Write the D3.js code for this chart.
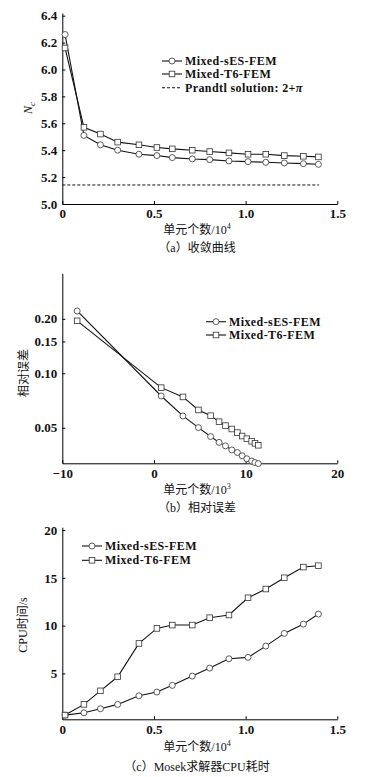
<!DOCTYPE html>
<html>
<head>
<meta charset="utf-8">
<script src="https://cdn.jsdelivr.net/npm/d3@7"></script>
<style>
body { margin: 0; background: #fff; }
svg text { font-family: "Liberation Serif", "Noto Sans CJK SC", serif; fill: #111; }
.tick text { font-size: 13px; font-weight: bold; }
.legend text { font-size: 12px; font-weight: bold; letter-spacing: 0.4px; }
.cn { font-size: 12px; }
</style>
</head>
<body>
<svg width="377" height="777"></svg>
<script>
// element count (x10^4), shared by panel a and c
var elemCount = [0.015, 0.118, 0.208, 0.302, 0.418, 0.516, 0.600, 0.709, 0.804, 0.909, 1.013, 1.110, 1.211, 1.315, 1.397];

// (a) Nc convergence
var ncSES = [6.26, 5.51, 5.44, 5.40, 5.37, 5.36, 5.345, 5.335, 5.33, 5.32, 5.315, 5.31, 5.305, 5.30, 5.295];
var ncT6 = [6.16, 5.57, 5.52, 5.46, 5.44, 5.42, 5.41, 5.40, 5.39, 5.38, 5.37, 5.37, 5.36, 5.355, 5.35];
var prandtl = 2 + Math.PI;

// (b) relative error, x in 10^3
var errX = [-8.38, 0.79, 3.16, 4.85, 6.18, 7.1, 7.8, 8.49, 9.1, 9.62, 10.13, 10.66, 11.02, 11.38];
var errSES = [0.221, 0.0749, 0.0581, 0.0501, 0.0447, 0.0415, 0.0397, 0.0377, 0.0365, 0.0350, 0.0337, 0.0327, 0.0321, 0.0317];
var errT6 = [0.195, 0.0833, 0.0740, 0.0627, 0.0583, 0.0540, 0.0514, 0.0492, 0.0470, 0.0450, 0.0435, 0.0421, 0.0410, 0.0400];

// (c) CPU time (s)
var cpuSES = [0.64, 0.88, 1.30, 1.76, 2.66, 3.05, 3.75, 4.72, 5.56, 6.53, 6.68, 7.86, 9.19, 10.16, 11.21];
var cpuT6 = [0.64, 1.76, 3.18, 4.65, 8.14, 9.71, 10.06, 10.06, 10.83, 11.11, 12.92, 13.83, 15.01, 16.13, 16.27];

// tick values
var xTicksA = [0, 0.5, 1.0, 1.5];
var yTicksA = [5.0, 5.2, 5.4, 5.6, 5.8, 6.0, 6.2, 6.4];
var xTicksB = [-10, 0, 10, 20];
var yTicksB = [0.05, 0.10, 0.15, 0.20];
var yTicksC = [5, 10, 15, 20];

var svg = d3.select("svg");
var left = 62.3, right = 337.3;

function fmtX(d) { return d === 0 ? "0" : d3.format(".1f")(d); }

function axes(x, y, yBottom, xTicks, xFmt, yTicks, yFmt) {
    svg.append("g")
        .attr("transform", "translate(0," + yBottom + ")")
        .call(d3.axisBottom(x).tickValues(xTicks).tickFormat(xFmt).tickSize(-3).tickSizeOuter(0).tickPadding(5));
    svg.append("g")
        .attr("transform", "translate(" + left + ",0)")
        .call(d3.axisLeft(y).tickValues(yTicks).tickFormat(yFmt).tickSize(-3).tickSizeOuter(0).tickPadding(5));
}

function series(x, y, xs, ys, shape) {
    var pts = xs.map(function (d, i) { return [x(d), y(ys[i])]; });
    svg.append("path")
        .attr("d", d3.line()(pts))
        .attr("fill", "none")
        .attr("stroke", "#111")
        .attr("stroke-width", 1.1);
    marker(svg, pts, shape);
}

function marker(g, pts, shape) {
    if (shape === "circle") {
        g.selectAll(null).data(pts).enter().append("circle")
            .attr("cx", function (d) { return d[0]; })
            .attr("cy", function (d) { return d[1]; })
            .attr("r", 3)
            .attr("fill", "#fff").attr("stroke", "#333").attr("stroke-width", 0.8);
    } else {
        g.selectAll(null).data(pts).enter().append("rect")
            .attr("x", function (d) { return d[0] - 2.8; })
            .attr("y", function (d) { return d[1] - 2.8; })
            .attr("width", 5.6).attr("height", 5.6)
            .attr("fill", "#fff").attr("stroke", "#333").attr("stroke-width", 0.8);
    }
}

function legend(x0, rows) { //rows: [y, shape, label, dashed]
    var g = svg.append("g").attr("class", "legend");
    rows.forEach(function (r) {
        g.append("line")
            .attr("x1", x0).attr("x2", x0 + 20).attr("y1", r[0]).attr("y2", r[0])
            .attr("stroke", "#111").attr("stroke-width", 1.1)
            .attr("stroke-dasharray", r[3] ? "3,2" : null);
        if (r[1]) marker(g, [[x0 + 10, r[0]]], r[1]);
        var t = g.append("text").attr("x", x0 + 23).attr("y", r[0] + 4).text(r[2]);
        if (r[3]) t.append("tspan").attr("font-style", "italic").text("π");
    });
}

function xLabel(y, pow) {
    var t = svg.append("text").attr("class", "cn")
        .attr("x", 197).attr("y", y).attr("text-anchor", "middle")
        .text("单元个数/10");
    t.append("tspan").attr("dy", -5).attr("font-size", "8px").text(pow);
}

function caption(y, txt) {
    svg.append("text").attr("class", "cn")
        .attr("x", 197).attr("y", y).attr("text-anchor", "middle")
        .text(txt);
}

function yLabel(x, y, txt) {
    return svg.append("text").attr("class", "cn")
        .attr("transform", "translate(" + x + "," + y + ") rotate(-90)")
        .attr("text-anchor", "middle")
        .text(txt);
}

// ---- panel a
var xA = d3.scaleLinear().domain([0, 1.5]).range([left, right]);
var yA = d3.scaleLinear().domain([5.0, 6.42]).range([204, 13]);
axes(xA, yA, 204, xTicksA, fmtX, yTicksA, d3.format(".1f"));
svg.append("line") //Prandtl solution
    .attr("x1", xA(0)).attr("x2", xA(1.40))
    .attr("y1", yA(prandtl)).attr("y2", yA(prandtl))
    .attr("stroke", "#111").attr("stroke-width", 1).attr("stroke-dasharray", "3,2");
series(xA, yA, elemCount, ncSES, "circle");
series(xA, yA, elemCount, ncT6, "square");
legend(162, [[61, "circle", "Mixed-sES-FEM"], [74, "square", "Mixed-T6-FEM"], [87.7, null, "Prandtl solution: 2+", true]]);
var nc = svg.append("text")
    .attr("transform", "translate(32,108) rotate(-90)")
    .attr("text-anchor", "middle").attr("font-size", "12px").attr("font-style", "italic")
    .text("N");
nc.append("tspan").attr("dy", 3).attr("font-size", "9px").text("c");
xLabel(234, "4");
caption(252, "（a）收敛曲线");

// ---- panel b
var xB = d3.scaleLinear().domain([-10, 20]).range([left, right]);
var yB = d3.scaleLog().domain([0.0318, 0.357]).range([463.3, 273.3]);
axes(xB, yB, 463.3, xTicksB, d3.format("d"), yTicksB, d3.format(".2f"));
series(xB, yB, errX, errSES, "circle");
series(xB, yB, errX, errT6, "square");
legend(206, [[321.7, "circle", "Mixed-sES-FEM"], [335, "square", "Mixed-T6-FEM"]]);
yLabel(28, 373, "相对误差");
xLabel(494, "3");
caption(512, "（b）相对误差");

// ---- panel c
var xC = d3.scaleLinear().domain([0, 1.5]).range([left, right]);
var yC = d3.scaleLinear().domain([0.2, 20.3]).range([719.3, 527.2]);
axes(xC, yC, 719.3, xTicksA, fmtX, yTicksC, d3.format("d"));
series(xC, yC, elemCount, cpuSES, "circle");
series(xC, yC, elemCount, cpuT6, "square");
legend(82, [[546, "circle", "Mixed-sES-FEM"], [560.3, "square", "Mixed-T6-FEM"]]);
yLabel(27, 625, "CPU时间/s");
xLabel(751, "4");
caption(771, "（c）Mosek求解器CPU耗时");
</script>
</body>
</html>
